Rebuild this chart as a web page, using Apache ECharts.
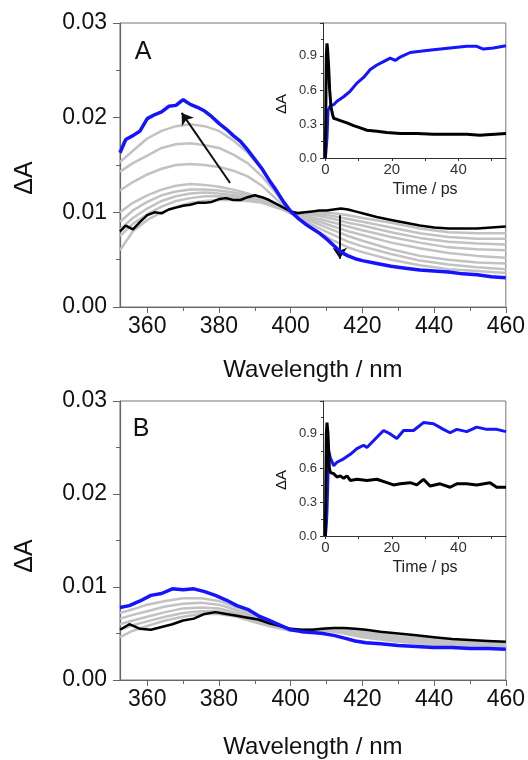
<!DOCTYPE html>
<html>
<head>
<meta charset="utf-8">
<script src="https://cdn.jsdelivr.net/npm/echarts@6/dist/echarts.min.js"></script>
<style>
  html, body { margin: 0; padding: 0; background: #fff; }
  #chart { width: 528px; height: 760px; }
</style>
</head>
<body>
<div id="chart"></div>
<script>
// ---- data ----
const wlTicks = [360, 380, 400, 420, 440, 460];
const wlMinorTicks = [370, 390, 410, 430, 450];
const timeTicks = [0, 20, 40];
const timeMinorTicks = [0, 10, 20, 30, 40, 50];

// panel A, fine wavelength grid for the first (black) and last (blue) spectra
const wlFineA = [352.4, 354, 356, 358, 360, 362, 364, 366, 368, 370, 372, 374, 376, 378, 380, 382, 384, 386, 388, 390,
  392, 394, 396, 398, 400, 402, 404, 406, 408, 410, 412, 414, 416, 418, 420, 424, 428, 432, 436, 440, 444, 448, 452, 456, 460];
const blueA = [0.0163, 0.0177, 0.0181, 0.0186, 0.0199, 0.0203, 0.0206, 0.0212, 0.0213, 0.0219, 0.0214, 0.0211, 0.0207, 0.0201, 0.0194, 0.0188, 0.0181, 0.0175, 0.0166, 0.0156,
  0.0146, 0.0134, 0.0123, 0.0111, 0.0101, 0.0094, 0.0088, 0.0083, 0.0078, 0.0072, 0.0065, 0.0058, 0.0054, 0.0051, 0.0049, 0.0046, 0.0043, 0.0041, 0.0039, 0.0038, 0.0037, 0.0035, 0.0034, 0.0032, 0.0031];
const blackA = [0.0080, 0.0086, 0.0082, 0.0090, 0.0097, 0.0100, 0.0099, 0.0103, 0.0105, 0.0107, 0.0108, 0.0110, 0.0110, 0.0111, 0.0114, 0.0115, 0.0113, 0.0113, 0.0116, 0.0118,
  0.0116, 0.0113, 0.0109, 0.0105, 0.0101, 0.0099, 0.0100, 0.0101, 0.0102, 0.0102, 0.0103, 0.0104, 0.0103, 0.0101, 0.0099, 0.0095, 0.0092, 0.0089, 0.0086, 0.0084, 0.0083, 0.0083, 0.0083, 0.0084, 0.0085];

// panel A, intermediate (grey) spectra
const wlA = [352.4, 356, 360, 364, 368, 372, 376, 380, 384, 388, 392, 396, 400, 404, 408, 412, 416, 420, 428, 436, 444, 452, 460];
const grayA1 = [0.0060, 0.0080, 0.0092, 0.0100, 0.0106, 0.0110, 0.0112, 0.0113, 0.0113, 0.0112, 0.0110, 0.0105, 0.0100, 0.0100, 0.0100, 0.0099, 0.0097, 0.0094, 0.0089, 0.0083, 0.0079, 0.0078, 0.0078];
const grayA2 = [0.0075, 0.0088, 0.0098, 0.0106, 0.0112, 0.0115, 0.0117, 0.0117, 0.0116, 0.0114, 0.0111, 0.0106, 0.0100, 0.0099, 0.0098, 0.0096, 0.0093, 0.0090, 0.0084, 0.0078, 0.0074, 0.0072, 0.0072];
const grayA3 = [0.0082, 0.0094, 0.0104, 0.0112, 0.0117, 0.0120, 0.0121, 0.0120, 0.0118, 0.0116, 0.0112, 0.0106, 0.0100, 0.0098, 0.0096, 0.0093, 0.0089, 0.0086, 0.0079, 0.0073, 0.0069, 0.0067, 0.0066];
const grayA4 = [0.0090, 0.0102, 0.0111, 0.0118, 0.0122, 0.0124, 0.0124, 0.0123, 0.0121, 0.0118, 0.0113, 0.0106, 0.0099, 0.0096, 0.0093, 0.0089, 0.0085, 0.0081, 0.0074, 0.0068, 0.0063, 0.0061, 0.0060];
const grayA5 = [0.0100, 0.0110, 0.0118, 0.0124, 0.0128, 0.0130, 0.0129, 0.0127, 0.0124, 0.0120, 0.0115, 0.0107, 0.0099, 0.0095, 0.0090, 0.0085, 0.0080, 0.0076, 0.0068, 0.0062, 0.0057, 0.0054, 0.0052];
const grayA6 = [0.0123, 0.0132, 0.0140, 0.0146, 0.0150, 0.0151, 0.0150, 0.0148, 0.0144, 0.0138, 0.0128, 0.0114, 0.0100, 0.0093, 0.0087, 0.0081, 0.0075, 0.0070, 0.0061, 0.0054, 0.0050, 0.0047, 0.0046];
const grayA7 = [0.0143, 0.0152, 0.0160, 0.0168, 0.0172, 0.0173, 0.0171, 0.0168, 0.0161, 0.0152, 0.0138, 0.0120, 0.0100, 0.0091, 0.0083, 0.0076, 0.0069, 0.0064, 0.0056, 0.0049, 0.0045, 0.0042, 0.0040];
const grayA8 = [0.0153, 0.0165, 0.0178, 0.0186, 0.0191, 0.0193, 0.0191, 0.0186, 0.0176, 0.0163, 0.0146, 0.0124, 0.0100, 0.0088, 0.0079, 0.0070, 0.0063, 0.0058, 0.0050, 0.0044, 0.0040, 0.0038, 0.0036];

// panel B
const wlFineB = [352.4, 355, 358, 361, 364, 367, 370, 373, 376, 379, 382, 385, 388, 391, 394, 397, 400, 403, 406, 409,
  412, 415, 418, 421, 425, 430, 435, 440, 445, 450, 455, 460];
const blueB = [0.0078, 0.0080, 0.0085, 0.0091, 0.0093, 0.0098, 0.0097, 0.0098, 0.0095, 0.0091, 0.0086, 0.0080, 0.0076, 0.0069, 0.0064, 0.0059, 0.0054, 0.0052, 0.0051, 0.0050,
  0.0048, 0.0045, 0.0042, 0.0040, 0.0039, 0.0037, 0.0036, 0.0035, 0.0035, 0.0034, 0.0034, 0.0033];
const blackB = [0.0054, 0.0060, 0.0055, 0.0054, 0.0057, 0.0060, 0.0064, 0.0066, 0.0071, 0.0073, 0.0071, 0.0069, 0.0067, 0.0065, 0.0061, 0.0058, 0.0055, 0.0054, 0.0054, 0.0055,
  0.0056, 0.0056, 0.0055, 0.0054, 0.0052, 0.0050, 0.0048, 0.0046, 0.0044, 0.0043, 0.0042, 0.0041];
const wlB = [352.4, 356, 360, 365, 370, 375, 380, 385, 390, 395, 400, 405, 410, 415, 420, 430, 440, 450, 460];
const grayB1 = [0.0046, 0.0053, 0.0058, 0.0064, 0.0068, 0.0071, 0.0071, 0.0068, 0.0062, 0.0057, 0.0053, 0.0054, 0.0056, 0.0055, 0.0052, 0.0047, 0.0044, 0.0041, 0.0039];
const grayB2 = [0.0054, 0.0059, 0.0063, 0.0068, 0.0072, 0.0074, 0.0074, 0.0070, 0.0064, 0.0058, 0.0053, 0.0054, 0.0055, 0.0054, 0.0051, 0.0046, 0.0043, 0.0040, 0.0038];
const grayB3 = [0.0060, 0.0064, 0.0068, 0.0073, 0.0077, 0.0078, 0.0077, 0.0072, 0.0066, 0.0059, 0.0054, 0.0054, 0.0055, 0.0053, 0.0050, 0.0045, 0.0041, 0.0039, 0.0037];
const grayB4 = [0.0066, 0.0070, 0.0074, 0.0079, 0.0082, 0.0083, 0.0081, 0.0075, 0.0068, 0.0060, 0.0054, 0.0053, 0.0054, 0.0051, 0.0048, 0.0043, 0.0040, 0.0037, 0.0036];
const grayB5 = [0.0072, 0.0076, 0.0081, 0.0085, 0.0088, 0.0088, 0.0085, 0.0078, 0.0070, 0.0061, 0.0055, 0.0053, 0.0053, 0.0050, 0.0046, 0.0041, 0.0038, 0.0036, 0.0035];

// insets: kinetics (time in ps, normalised dA)
const tBlackA = [0, 0.3, 0.5, 0.7, 1.0, 1.3, 1.7, 2.2, 2.5, 3.5, 4.5, 6.5, 8.5, 10.5, 12.5, 15.5, 18.5, 22.5, 27.5, 32.5, 37.5, 42.5, 46.5, 48.5, 51, 54.3];
const blackInsetA = [0, 0.9, 1.01, 0.95, 0.8, 0.6, 0.45, 0.38, 0.35, 0.34, 0.33, 0.31, 0.285, 0.265, 0.245, 0.235, 0.225, 0.215, 0.215, 0.21, 0.21, 0.21, 0.20, 0.205, 0.21, 0.215];
const tBlueA = [0, 0.3, 0.5, 0.8, 1.5, 2.5, 3.5, 4.5, 5.5, 7.5, 9.5, 11.5, 13.5, 15.5, 17.5, 19.5, 21, 22.5, 25.5, 28.5, 32.5, 37.5, 42.5, 45.5, 47.5, 50.5, 54.3];
const blueInsetA = [0, 0.1, 0.18, 0.42, 0.46, 0.47, 0.50, 0.52, 0.54, 0.59, 0.66, 0.71, 0.78, 0.82, 0.85, 0.88, 0.86, 0.89, 0.93, 0.94, 0.955, 0.97, 0.985, 0.985, 0.96, 0.97, 0.99];
const tBlackB = [0, 0.3, 0.5, 0.8, 1.2, 1.5, 2.5, 3.5, 4.5, 5.5, 6.5, 7.5, 9.5, 12.5, 15.5, 18.5, 20.5, 22.5, 25.5, 27.5, 29.5, 31.5, 34.5, 37.5, 39.5, 42.5, 45.5, 49.5, 51.5, 54.3];
const blackInsetB = [0, 0.9, 1.0, 0.9, 0.6, 0.56, 0.55, 0.52, 0.53, 0.51, 0.53, 0.49, 0.50, 0.49, 0.50, 0.47, 0.45, 0.46, 0.47, 0.45, 0.50, 0.44, 0.46, 0.43, 0.46, 0.46, 0.45, 0.47, 0.43, 0.43];
const tBlueB = [0, 0.3, 0.5, 1.0, 1.5, 2.5, 3.5, 5.5, 7.5, 9.5, 11.5, 12.5, 15.5, 17.5, 19.5, 21.5, 23.5, 26.5, 29.5, 32.5, 35.5, 37.5, 39.5, 42.5, 45.5, 48.5, 51.5, 54.3];
const blueInsetB = [0, 0.1, 0.22, 0.75, 0.69, 0.62, 0.65, 0.68, 0.72, 0.77, 0.80, 0.78, 0.87, 0.93, 0.90, 0.86, 0.93, 0.93, 1.0, 0.99, 0.94, 0.91, 0.94, 0.92, 0.96, 0.94, 0.94, 0.92];

// arrows in panel A: [start, end] in data coords
const arrowUp = [[383.1, 0.0131], [369.6, 0.0205]];
const arrowDown = [[413.7, 0.0097], [413.7, 0.0051]];

// ---- chart ----
const FONT = '"Liberation Sans", Arial, sans-serif';
const BLUE = '#1414ff';
const GRAY = '#c2c2c2';
const BLACK = '#000';
const AXIS = '#666';

function pairs(xs, ys) {
  return xs.map((x, i) => [x, ys[i]]);
}

function line(axis, xs, ys, color, width, z) {
  return {
    type: 'line', xAxisIndex: axis, yAxisIndex: axis,
    data: pairs(xs, ys), symbol: 'none', silent: true,
    lineStyle: {color: color, width: width}, z: z
  };
}

function mainGrid(top) {
  return {left: 120, top: top, width: 386, height: 284, show: true, borderColor: '#777', borderWidth: 1};
}

function insetGrid(top) {
  return {left: 323, top: top, width: 183, height: 135, show: false};
}

function mainX(grid, gap) {
  return {
    type: 'value', gridIndex: grid, position: 'bottom', min: 352.4, max: 460,
    axisLine: {show: true, onZero: false, lineStyle: {color: AXIS, width: 1.2}},
    axisTick: {show: true, customValues: wlTicks, length: 6, lineStyle: {color: AXIS}},
    axisLabel: {customValues: wlTicks, margin: 8, fontSize: 23, fontFamily: FONT, color: '#111'},
    splitLine: {show: false},
    name: 'Wavelength / nm', nameLocation: 'middle', nameGap: gap,
    nameTextStyle: {fontSize: 24, fontFamily: FONT, color: '#111'}
  };
}

function minorX(grid) {
  return {
    type: 'value', gridIndex: grid, position: 'bottom', min: 352.4, max: 460,
    axisLine: {show: false},
    axisTick: {show: true, customValues: wlMinorTicks, length: 4, lineStyle: {color: AXIS}},
    axisLabel: {show: false},
    splitLine: {show: false}
  };
}

function mainY(grid) {
  return {
    type: 'value', gridIndex: grid, min: 0, max: 0.03, interval: 0.01,
    axisLine: {show: true, onZero: false, lineStyle: {color: AXIS, width: 1.2}},
    axisTick: {show: true, length: 7, lineStyle: {color: AXIS}},
    minorTick: {show: true, splitNumber: 2, length: 4, lineStyle: {color: AXIS}},
    axisLabel: {margin: 13, fontSize: 23, fontFamily: FONT, color: '#111', formatter: v => v.toFixed(2)},
    splitLine: {show: false}
  };
}

function insetX(grid) {
  return {
    type: 'value', gridIndex: grid, position: 'bottom', min: -0.7, max: 54.3,
    axisLine: {show: true, onZero: false, lineStyle: {color: '#333', width: 1}},
    axisTick: {show: true, customValues: timeMinorTicks, length: 3, lineStyle: {color: '#333'}},
    axisLabel: {customValues: timeTicks, margin: 4, fontSize: 15, fontFamily: FONT, color: '#333'},
    splitLine: {show: false},
    name: 'Time / ps', nameLocation: 'middle', nameGap: 24,
    nameTextStyle: {fontSize: 16, fontFamily: FONT, color: '#222', padding: [0, 0, 0, 21]}
  };
}

function insetY(grid) {
  return {
    type: 'value', gridIndex: grid, min: 0, max: 1.19, interval: 0.3,
    axisLine: {show: true, onZero: false, lineStyle: {color: '#333', width: 1}},
    axisTick: {show: true, length: 3, lineStyle: {color: '#333'}},
    minorTick: {show: true, splitNumber: 2, length: 2, lineStyle: {color: '#333'}},
    axisLabel: {margin: 6, fontSize: 13, fontFamily: FONT, color: '#333', showMaxLabel: false, formatter: v => v.toFixed(1)},
    splitLine: {show: false}
  };
}

function text(str, x, y, size, rotate) {
  return {
    type: 'text', x: x, y: y, rotation: rotate ? Math.PI / 2 : 0, silent: true,
    style: {text: str, font: size + 'px ' + FONT, fill: '#111', textAlign: 'center', textVerticalAlign: 'middle'}
  };
}

const arrows = {
  silent: true, symbol: ['none', 'arrow'], symbolSize: 11, animation: false,
  label: {show: false},
  lineStyle: {color: '#111', width: 2, type: 'solid'},
  data: [
    [{coord: arrowUp[0]}, {coord: arrowUp[1]}],
    [{coord: arrowDown[0]}, {coord: arrowDown[1]}]
  ]
};

const blueSeriesA = line(0, wlFineA, blueA, BLUE, 3.5, 5);
blueSeriesA.markLine = arrows;

const option = {
  animation: false,
  backgroundColor: '#fff',
  grid: [mainGrid(23), insetGrid(23), mainGrid(401), insetGrid(401)],
  xAxis: [mainX(0, 51), insetX(1), mainX(2, 55), insetX(3), minorX(0), minorX(2)],
  yAxis: [mainY(0), insetY(1), mainY(2), insetY(3)],
  graphic: [
    text('ΔA', 25, 178, 25, true),
    text('ΔA', 25, 556, 25, true),
    text('A', 143, 52, 25, false),
    text('B', 141, 429, 25, false),
    text('ΔA', 282, 104, 15, true),
    text('ΔA', 282, 480, 15, true)
  ],
  series: [
    line(0, wlA, grayA1, GRAY, 2.5, 2),
    line(0, wlA, grayA2, GRAY, 2.5, 2),
    line(0, wlA, grayA3, GRAY, 2.5, 2),
    line(0, wlA, grayA4, GRAY, 2.5, 2),
    line(0, wlA, grayA5, GRAY, 2.5, 2),
    line(0, wlA, grayA6, GRAY, 2.5, 2),
    line(0, wlA, grayA7, GRAY, 2.5, 2),
    line(0, wlA, grayA8, GRAY, 2.5, 2),
    line(0, wlFineA, blackA, BLACK, 2.5, 3),
    blueSeriesA,

    line(1, tBlueA, blueInsetA, BLUE, 3, 4),
    line(1, tBlackA, blackInsetA, BLACK, 3, 5),

    line(2, wlB, grayB1, GRAY, 2.5, 2),
    line(2, wlB, grayB2, GRAY, 2.5, 2),
    line(2, wlB, grayB3, GRAY, 2.5, 2),
    line(2, wlB, grayB4, GRAY, 2.5, 2),
    line(2, wlB, grayB5, GRAY, 2.5, 2),
    line(2, wlFineB, blackB, BLACK, 2.5, 3),
    line(2, wlFineB, blueB, BLUE, 3.5, 5),

    line(3, tBlueB, blueInsetB, BLUE, 3, 4),
    line(3, tBlackB, blackInsetB, BLACK, 3, 5)
  ]
};

const chart = echarts.init(document.getElementById('chart'));
chart.setOption(option);
</script>
</body>
</html>
